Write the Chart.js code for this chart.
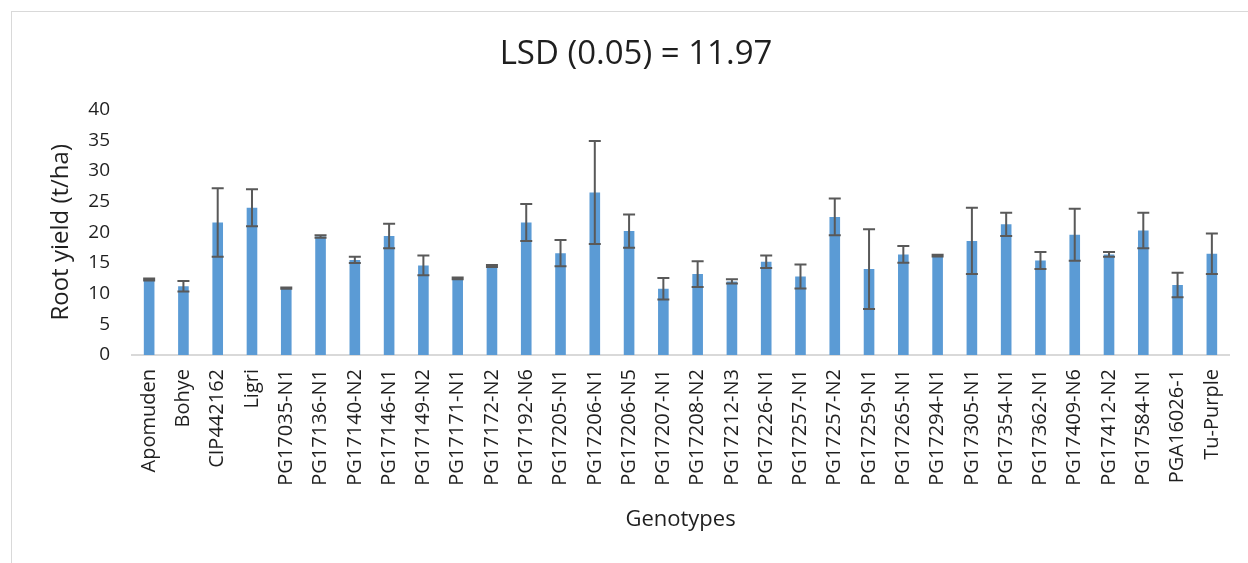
<!DOCTYPE html>
<html lang="en">
<head>
    <meta charset="UTF-8">
    <title>Root yield by genotype</title>
    <script src="https://cdn.jsdelivr.net/npm/chart.js"></script>
    <style>
        html, body { margin: 0; padding: 0; background: #fff; overflow: hidden; }
        .frame {
            position: absolute;
            left: 11px;
            top: 11px;
            width: 1250px;
            height: 560px;
            border: 1px solid #d9d9d9;
        }
    </style>
</head>
<body>
    <div class="frame">
        <canvas id="grafico" width="1250" height="551"></canvas>
    </div>
    <script>
        const genotypes = ['Apomuden', 'Bohye', 'CIP442162', 'Ligri', 'PG17035-N1', 'PG17136-N1',
            'PG17140-N2', 'PG17146-N1', 'PG17149-N2', 'PG17171-N1', 'PG17172-N2', 'PG17192-N6',
            'PG17205-N1', 'PG17206-N1', 'PG17206-N5', 'PG17207-N1', 'PG17208-N2', 'PG17212-N3',
            'PG17226-N1', 'PG17257-N1', 'PG17257-N2', 'PG17259-N1', 'PG17265-N1', 'PG17294-N1',
            'PG17305-N1', 'PG17354-N1', 'PG17362-N1', 'PG17409-N6', 'PG17412-N2', 'PG17584-N1',
            'PGA16026-1', 'Tu-Purple'];

        const rootYield = [12.3, 11.2, 21.6, 24.0, 10.9, 19.3, 15.5, 19.4, 14.6, 12.5, 14.5, 21.6,
            16.6, 26.5, 20.2, 10.8, 13.2, 12.0, 15.2, 12.8, 22.5, 14.0, 16.4, 16.2,
            18.6, 21.3, 15.4, 19.6, 16.4, 20.3, 11.4, 16.5];

        const yieldError = [0.15, 0.85, 5.6, 3.0, 0.1, 0.2, 0.5, 2.0, 1.6, 0.15, 0.15, 3.0,
            2.15, 8.4, 2.7, 1.75, 2.1, 0.35, 1.0, 1.95, 3.0, 6.5, 1.35, 0.15,
            5.4, 1.9, 1.4, 4.25, 0.4, 2.9, 2.0, 3.3];

        const yTicks = [0, 5, 10, 15, 20, 25, 30, 35, 40];

        const FONT = "'Open Sans', sans-serif";
        const TEXT = '#1f1f1f';

        // error bars (+/- value), drawn on top of the bars
        const errorBars = {
            id: 'errorBars',
            afterDatasetsDraw(chart) {
                const meta = chart.getDatasetMeta(0);
                const y = chart.scales.y;
                const ctx = chart.ctx;
                ctx.save();
                ctx.strokeStyle = '#595959';
                ctx.lineWidth = 2;
                meta.data.forEach((bar, i) => {
                    const top = y.getPixelForValue(rootYield[i] + yieldError[i]);
                    const bot = y.getPixelForValue(rootYield[i] - yieldError[i]);
                    const half = 6;
                    ctx.beginPath();
                    ctx.moveTo(bar.x, top);
                    ctx.lineTo(bar.x, bot);
                    ctx.moveTo(bar.x - half, top);
                    ctx.lineTo(bar.x + half, top);
                    ctx.moveTo(bar.x - half, bot);
                    ctx.lineTo(bar.x + half, bot);
                    ctx.stroke();
                });
                ctx.restore();
            }
        };

        new Chart(document.getElementById('grafico'), {
            type: 'bar',
            data: {
                labels: genotypes,
                datasets: [{
                    label: 'Root yield',
                    data: rootYield,
                    backgroundColor: '#5b9bd5',
                    barPercentage: 0.31,
                    categoryPercentage: 1
                }]
            },
            options: {
                responsive: false,
                animation: false,
                layout: { padding: { left: 31, right: 33, top: 0, bottom: 0 } },
                plugins: {
                    legend: { display: false },
                    tooltip: { enabled: false },
                    title: {
                        display: true,
                        text: 'LSD (0.05) = 11.97',
                        color: TEXT,
                        font: { family: FONT, size: 33, weight: 'normal' },
                        padding: { top: 23, bottom: 35 }
                    }
                },
                scales: {
                    x: {
                        grid: { display: false, drawTicks: false },
                        border: { display: true, color: '#d9d9d9', width: 2 },
                        ticks: {
                            autoSkip: false,
                            minRotation: 90,
                            maxRotation: 90,
                            padding: 14,
                            color: TEXT,
                            font: { family: FONT, size: 20 }
                        },
                        title: {
                            display: true,
                            text: 'Genotypes',
                            color: TEXT,
                            font: { family: FONT, size: 22 },
                            padding: { top: 4, bottom: 30 }
                        },
                        afterFit(scale) { scale.height = 208; }
                    },
                    y: {
                        min: 0,
                        max: 40,
                        afterBuildTicks(scale) { scale.ticks = yTicks.map(v => ({ value: v })); },
                        grid: { display: false, drawTicks: false },
                        border: { display: false },
                        ticks: {
                            padding: 22,
                            color: TEXT,
                            font: { family: FONT, size: 19 }
                        },
                        title: {
                            display: true,
                            text: 'Root yield (t/ha)',
                            color: TEXT,
                            font: { family: FONT, size: 24 },
                            padding: { top: 4, bottom: 4 }
                        },
                        afterFit(scale) { scale.width = 89; }
                    }
                }
            },
            plugins: [errorBars]
        });
    </script>
</body>
</html>
